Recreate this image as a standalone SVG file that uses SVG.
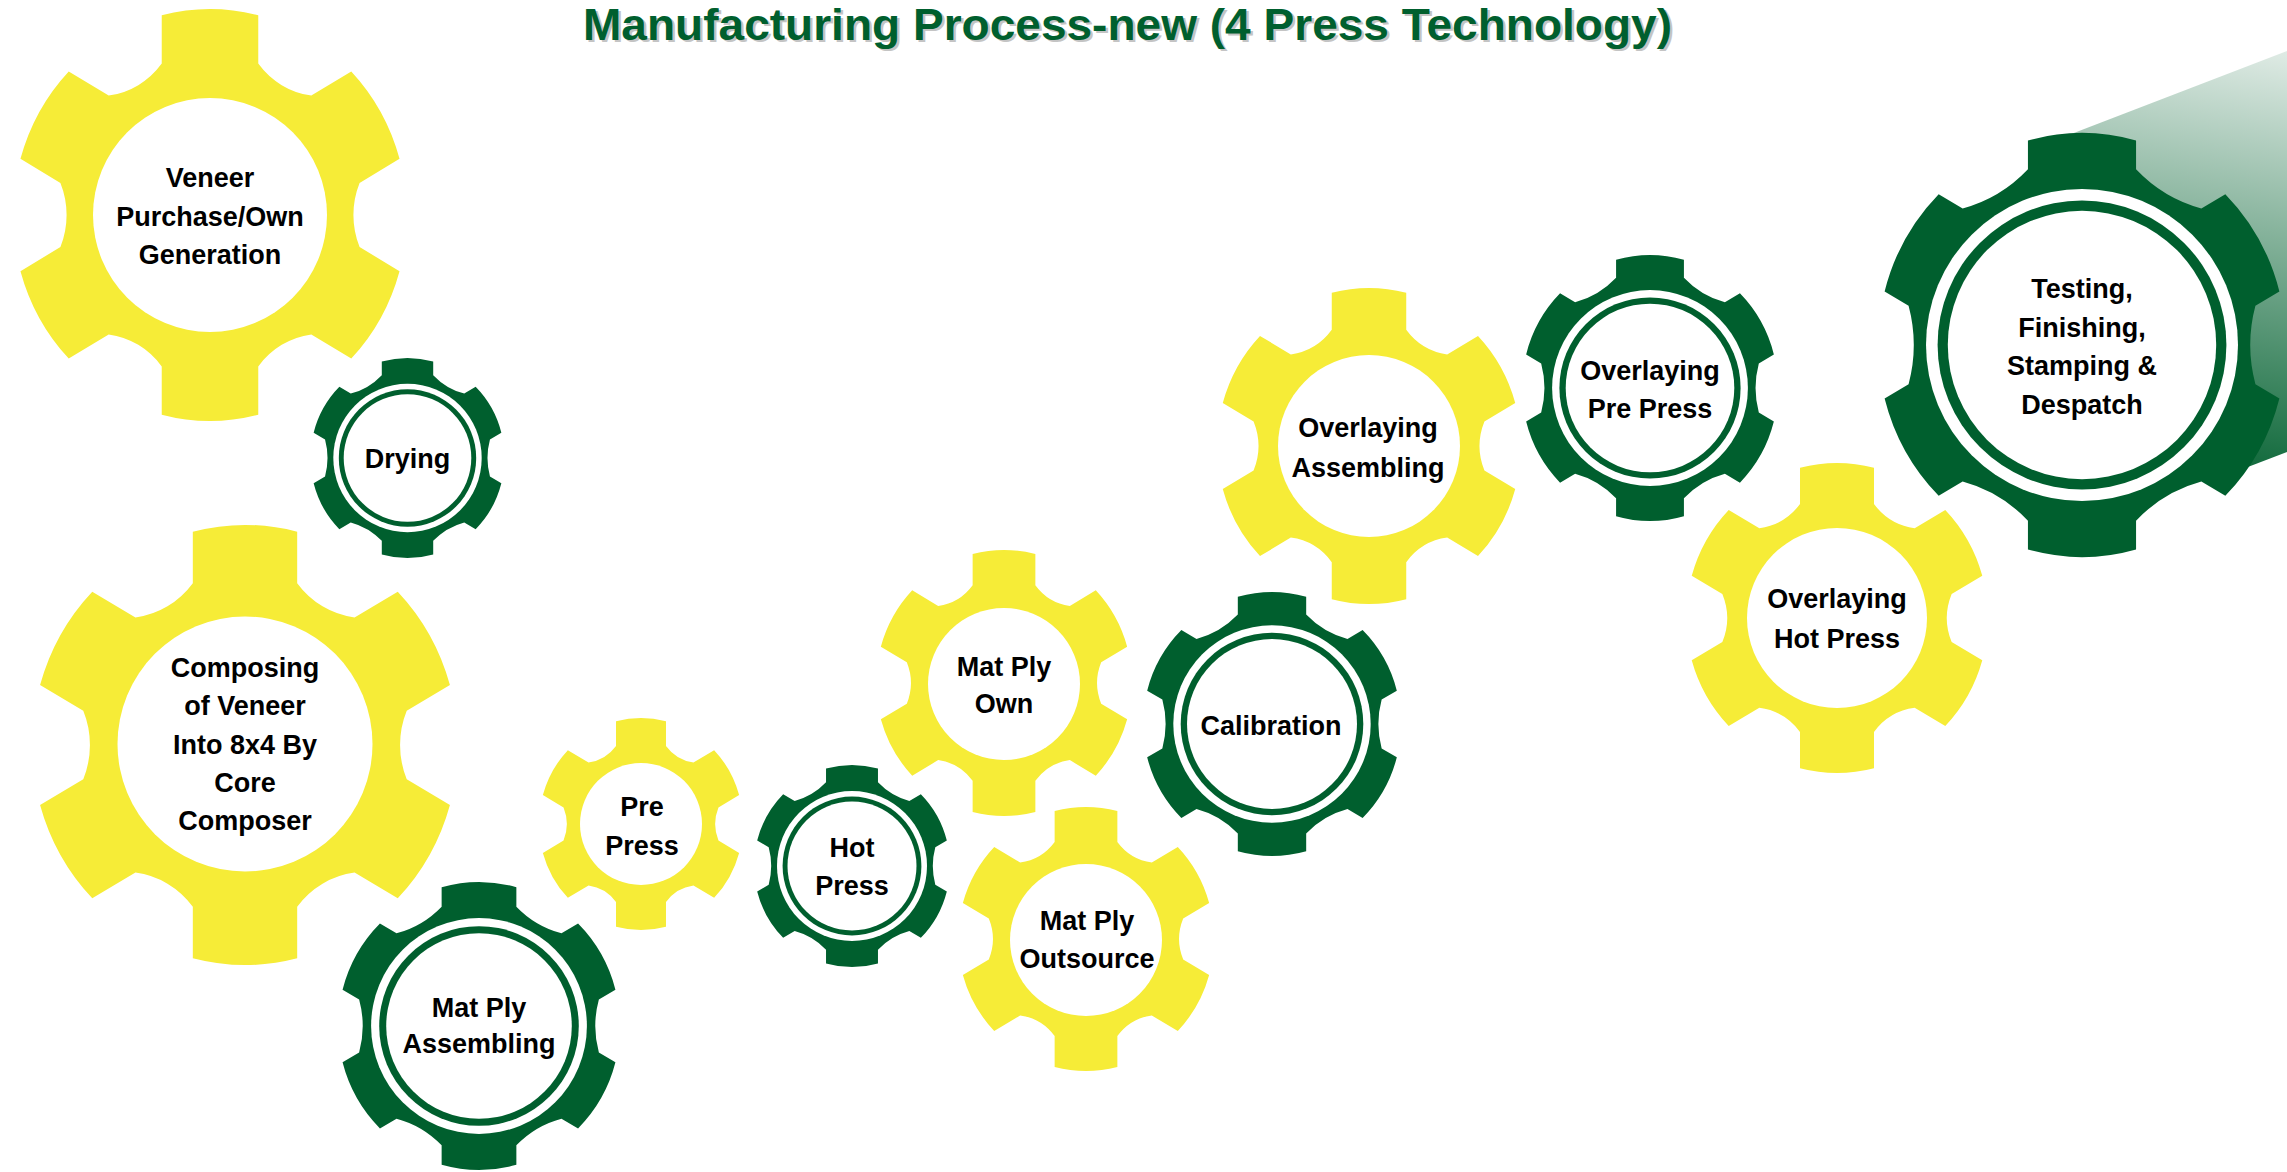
<svg xmlns="http://www.w3.org/2000/svg" width="2287" height="1172" viewBox="0 0 2287 1172">
  <defs>
    <!-- six-tooth cog, outer radius 100, yellow style (long teeth) -->
    <path id="cogY" d="M -24.5 -73.53 L -24.5 -96.95 A 100 100 0 0 1 24.5 -96.95 L 24.5 -73.53 A 40.2 40.2 0 0 0 51.43 -57.98 L 71.71 -69.69 A 100 100 0 0 1 96.21 -27.26 L 75.93 -15.55 A 40.2 40.2 0 0 0 75.93 15.55 L 96.21 27.26 A 100 100 0 0 1 71.71 69.69 L 51.43 57.98 A 40.2 40.2 0 0 0 24.5 73.53 L 24.5 96.95 A 100 100 0 0 1 -24.5 96.95 L -24.5 73.53 A 40.2 40.2 0 0 0 -51.43 57.98 L -71.71 69.69 A 100 100 0 0 1 -96.21 27.26 L -75.93 15.55 A 40.2 40.2 0 0 0 -75.93 -15.55 L -96.21 -27.26 A 100 100 0 0 1 -71.71 -69.69 L -51.43 -57.98 A 40.2 40.2 0 0 0 -24.5 -73.53 Z"/>
    <!-- six-tooth cog, outer radius 100, green style (short teeth) -->
    <path id="cogG" d="M -26.5 -82.87 L -26.5 -96.43 A 100 100 0 0 1 26.5 -96.43 L 26.5 -82.87 A 69.3 69.3 0 0 0 58.51 -64.38 L 70.26 -71.16 A 100 100 0 0 1 96.76 -25.26 L 85.01 -18.48 A 69.3 69.3 0 0 0 85.01 18.48 L 96.76 25.26 A 100 100 0 0 1 70.26 71.16 L 58.51 64.38 A 69.3 69.3 0 0 0 26.5 82.87 L 26.5 96.43 A 100 100 0 0 1 -26.5 96.43 L -26.5 82.87 A 69.3 69.3 0 0 0 -58.51 64.38 L -70.26 71.16 A 100 100 0 0 1 -96.76 25.26 L -85.01 18.48 A 69.3 69.3 0 0 0 -85.01 -18.48 L -96.76 -25.26 A 100 100 0 0 1 -70.26 -71.16 L -58.51 -64.38 A 69.3 69.3 0 0 0 -26.5 -82.87 Z"/>
    <linearGradient id="beam" gradientUnits="userSpaceOnUse" x1="2230" y1="460" x2="2300" y2="40">
      <stop offset="0" stop-color="#005F2E" stop-opacity="0.92"/>
      <stop offset="1" stop-color="#005F2E" stop-opacity="0.1"/>
    </linearGradient>
  </defs>
  <style>
    .y { fill: #F6EC37; }
    .g { fill: #005F2E; }
    .w { fill: #FFFFFF; }
    .lbl { font-family: "Liberation Sans", Arial, sans-serif; font-weight: bold; font-size: 27px; fill: #000000; text-anchor: middle; }
    .title { font-family: "Liberation Sans", Arial, sans-serif; font-weight: bold; font-size: 44px; }
  </style>

  <rect width="2287" height="1172" fill="#FFFFFF"/>

  <!-- heading with a soft grey offset shadow -->
  <text class="title" x="585.5" y="42" fill="#C4C4C4" textLength="1089" lengthAdjust="spacingAndGlyphs">Manufacturing Process-new (4 Press Technology)</text>
  <text class="title" x="583" y="40" fill="#005F2E" textLength="1089" lengthAdjust="spacingAndGlyphs">Manufacturing Process-new (4 Press Technology)</text>

  <!-- light beam behind the last cog -->
  <polygon points="2040,146 2287,51 2287,452 2240,470 2082,345" fill="url(#beam)"/>

  <g id="connectors"/>

  <g id="gear-veneer">
    <use href="#cogY" class="y" transform="translate(210,215) scale(1.97,2.06)"/>
    <circle class="w" cx="210" cy="215" r="117"/>
    <text class="lbl"><tspan x="210" y="187">Veneer</tspan><tspan x="210" y="225.5">Purchase/Own</tspan><tspan x="210" y="264">Generation</tspan></text>
  </g>

  <g id="gear-drying">
    <use href="#cogG" class="g" transform="translate(407.5,458) scale(0.97,1.0)"/>
    <circle class="w" cx="407.5" cy="458" r="74.2"/>
    <circle class="g" cx="407.5" cy="458" r="68.7"/>
    <circle class="w" cx="407.5" cy="458" r="63.8"/>
    <text class="lbl" x="407.5" y="468">Drying</text>
  </g>

  <g id="gear-composing">
    <use href="#cogY" class="y" transform="translate(245,745) scale(2.13,2.2)"/>
    <circle class="w" cx="245" cy="744" r="127.5"/>
    <text class="lbl"><tspan x="245" y="677">Composing</tspan><tspan x="245" y="715">of Veneer</tspan><tspan x="245" y="754">Into 8x4 By</tspan><tspan x="245" y="792">Core</tspan><tspan x="245" y="830">Composer</tspan></text>
  </g>

  <g id="gear-matply-assembling">
    <use href="#cogG" class="g" transform="translate(479,1026) scale(1.41,1.44)"/>
    <circle class="w" cx="479" cy="1026" r="107.9"/>
    <circle class="g" cx="479" cy="1026" r="99.8"/>
    <circle class="w" cx="479" cy="1026" r="92.8"/>
    <text class="lbl"><tspan x="479" y="1017">Mat Ply</tspan><tspan x="479" y="1053">Assembling</tspan></text>
  </g>

  <g id="gear-pre-press">
    <use href="#cogY" class="y" transform="translate(641,824) scale(1.02,1.06)"/>
    <circle class="w" cx="641" cy="824" r="61"/>
    <text class="lbl"><tspan x="642" y="816">Pre</tspan><tspan x="642" y="855">Press</tspan></text>
  </g>

  <g id="gear-hot-press">
    <use href="#cogG" class="g" transform="translate(852,866) scale(0.98,1.01)"/>
    <circle class="w" cx="852" cy="866" r="75"/>
    <circle class="g" cx="852" cy="866" r="69.4"/>
    <circle class="w" cx="852" cy="866" r="64.5"/>
    <text class="lbl"><tspan x="852" y="857">Hot</tspan><tspan x="852" y="895">Press</tspan></text>
  </g>

  <g id="gear-matply-own">
    <use href="#cogY" class="y" transform="translate(1004,683) scale(1.28,1.33)"/>
    <circle class="w" cx="1004" cy="684" r="76"/>
    <text class="lbl"><tspan x="1004" y="676">Mat Ply</tspan><tspan x="1004" y="713">Own</tspan></text>
  </g>

  <g id="gear-matply-outsource">
    <use href="#cogY" class="y" transform="translate(1086,939) scale(1.28,1.32)"/>
    <circle class="w" cx="1086" cy="940" r="76"/>
    <text class="lbl"><tspan x="1087" y="930">Mat Ply</tspan><tspan x="1087" y="968">Outsource</tspan></text>
  </g>

  <g id="gear-calibration">
    <use href="#cogG" class="g" transform="translate(1272,724) scale(1.29,1.32)"/>
    <circle class="w" cx="1272" cy="724" r="98.7"/>
    <circle class="g" cx="1272" cy="724" r="91.3"/>
    <circle class="w" cx="1272" cy="724" r="85"/>
    <text class="lbl" x="1271" y="735">Calibration</text>
  </g>

  <g id="gear-overlaying-assembling">
    <use href="#cogY" class="y" transform="translate(1369,446) scale(1.52,1.58)"/>
    <circle class="w" cx="1369" cy="446" r="91"/>
    <text class="lbl"><tspan x="1368" y="437">Overlaying</tspan><tspan x="1368" y="477">Assembling</tspan></text>
  </g>

  <g id="gear-overlaying-pre-press">
    <use href="#cogG" class="g" transform="translate(1650,388) scale(1.28,1.33)"/>
    <circle class="w" cx="1650" cy="388" r="97.9"/>
    <circle class="g" cx="1650" cy="388" r="90.6"/>
    <circle class="w" cx="1650" cy="388" r="84.3"/>
    <text class="lbl"><tspan x="1650" y="380">Overlaying</tspan><tspan x="1650" y="418">Pre Press</tspan></text>
  </g>

  <g id="gear-overlaying-hot-press">
    <use href="#cogY" class="y" transform="translate(1837,618) scale(1.51,1.55)"/>
    <circle class="w" cx="1837" cy="618" r="90"/>
    <text class="lbl"><tspan x="1837" y="608">Overlaying</tspan><tspan x="1837" y="648">Hot Press</tspan></text>
  </g>

  <g id="gear-testing">
    <use href="#cogG" class="g" transform="translate(2082,345) scale(2.04,2.12)"/>
    <circle class="w" cx="2082" cy="345" r="156"/>
    <circle class="g" cx="2082" cy="345" r="144.4"/>
    <circle class="w" cx="2082" cy="345" r="134.2"/>
    <text class="lbl"><tspan x="2082" y="298">Testing,</tspan><tspan x="2082" y="337">Finishing,</tspan><tspan x="2082" y="375">Stamping &amp;</tspan><tspan x="2082" y="414">Despatch</tspan></text>
  </g>
</svg>
